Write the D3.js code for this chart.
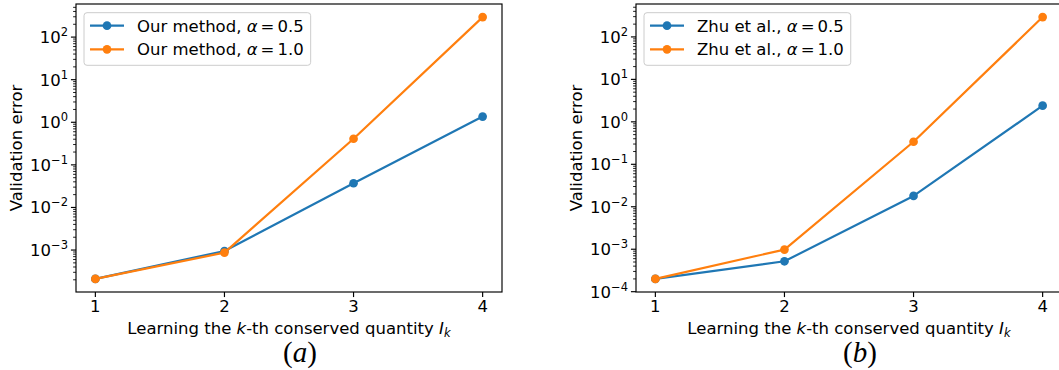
<!DOCTYPE html>
<html><head><meta charset="utf-8">
<script src="https://cdn.jsdelivr.net/npm/d3@7"></script>
<style>
html,body{margin:0;padding:0;background:#fff;}
text{font-family:"DejaVu Sans",sans-serif;fill:#000;}
</style></head>
<body>
<svg id="chart" width="1059" height="370"></svg>
<script>
// ---- data ----
const ks = [1, 2, 3, 4];
const xTickLabels = ["1", "2", "3", "4"];
const yTickExps = [-4, -3, -2, -1, 0, 1, 2];
const oursAlpha05 = [2.1e-4, 9.5e-4, 0.037, 1.36];
const oursAlpha10 = [2.1e-4, 8.7e-4, 0.41, 295];
const zhuAlpha05 = [2.0e-4, 5.2e-4, 0.018, 2.4];
const zhuAlpha10 = [2.0e-4, 9.8e-4, 0.34, 293];
const alphas = ["0.5", "1.0"];
const methodNames = ["Our method", "Zhu et al."];
const panelTags = ["a", "b"];
const colors = ["#1f77b4", "#ff7f0e"];

const svg = d3.select("#chart");
const PT = 1.45;
const FS = 16.5, FS_SMALL = 11.5;

function superTick(sel, exp) {
  sel.append("tspan").text("10");
  sel.append("tspan").attr("font-size", FS_SMALL).attr("dy", -7)
    .text(exp < 0 ? "\u2212" + (-exp) : String(exp));
}

function drawPanel(cfg) {
  const left = cfg.left, top = 4, w = 426, h = 288;
  const g = svg.append("g");
  const x = d3.scaleLinear().domain([0.85, 4.15]).range([left, left + w]);
  const all = cfg.series.flat();
  const lmin = Math.log10(d3.min(all)), lmax = Math.log10(d3.max(all));
  const m = (lmax - lmin) * 0.05;
  const y = d3.scaleLog().domain([Math.pow(10, lmin - m), Math.pow(10, lmax + m)]).range([top + h, top]);
  const [d0, d1] = y.domain();

  // minor ticks
  for (let e = -6; e <= 3; e++) {
    for (let k = 2; k <= 9; k++) {
      const v = k * Math.pow(10, e);
      if (v >= d0 && v <= d1) {
        g.append("line").attr("x1", left).attr("x2", left - 2 * PT)
          .attr("y1", y(v)).attr("y2", y(v)).attr("stroke", "#000").attr("stroke-width", 0.6 * PT);
      }
    }
  }
  // major y ticks
  yTickExps.forEach(e => {
    const v = Math.pow(10, e);
    if (v < d0 * 0.9999 || v > d1) return;
    const yy = y(v);
    g.append("line").attr("x1", left).attr("x2", left - 3.5 * PT)
      .attr("y1", yy).attr("y2", yy).attr("stroke", "#000").attr("stroke-width", 0.8 * PT);
    const t = g.append("text").attr("x", left - 8).attr("y", yy + 6)
      .attr("text-anchor", "end").attr("font-size", FS);
    superTick(t, e);
  });
  // x ticks
  ks.forEach((k, i) => {
    g.append("line").attr("x1", x(k)).attr("x2", x(k))
      .attr("y1", top + h).attr("y2", top + h + 3.5 * PT).attr("stroke", "#000").attr("stroke-width", 0.8 * PT);
    g.append("text").attr("x", x(k)).attr("y", 312).attr("text-anchor", "middle")
      .attr("font-size", FS).text(xTickLabels[i]);
  });

  // series
  const line = d3.line().x((d, i) => x(ks[i])).y(d => y(d));
  cfg.series.forEach((s, si) => {
    g.append("path").datum(s).attr("d", line).attr("fill", "none")
      .attr("stroke", colors[si]).attr("stroke-width", 1.5 * PT).attr("stroke-linejoin", "round");
    g.selectAll(null).data(s).enter().append("circle")
      .attr("cx", (d, i) => x(ks[i])).attr("cy", d => y(d)).attr("r", 3 * PT)
      .attr("fill", colors[si]);
  });

  // spines
  g.append("rect").attr("x", left).attr("y", top).attr("width", w).attr("height", h)
    .attr("fill", "none").attr("stroke", "#000").attr("stroke-width", 0.8 * PT);

  // legend
  const lg = g.append("g");
  const box = lg.append("rect").attr("x", left + 8).attr("y", 12.7).attr("height", 52.6)
    .attr("rx", 3).attr("fill", "#fff").attr("fill-opacity", 0.8)
    .attr("stroke", "#cccccc").attr("stroke-width", 1);
  let maxEnd = 0;
  alphas.forEach((a, i) => {
    const ry = 25.7 + i * 23.6;
    lg.append("line").attr("x1", left + 14).attr("x2", left + 48).attr("y1", ry).attr("y2", ry)
      .attr("stroke", colors[i]).attr("stroke-width", 1.5 * PT);
    lg.append("circle").attr("cx", left + 31).attr("cy", ry).attr("r", 3 * PT).attr("fill", colors[i]);
    const t = lg.append("text").attr("x", left + 61).attr("y", ry + 6).attr("font-size", FS);
    t.append("tspan").text(cfg.name + ", ");
    t.append("tspan").attr("font-style", "italic").text("\u03b1");
    t.append("tspan").attr("dx", 3).text("=");
    t.append("tspan").attr("dx", 3).text(a);
    const bb = t.node().getBBox();
    maxEnd = Math.max(maxEnd, bb.x + bb.width);
  });
  box.attr("width", maxEnd + 7 - (left + 8));

  // axis labels
  const xl = g.append("text").attr("x", left + w / 2).attr("y", 334)
    .attr("text-anchor", "middle").attr("font-size", FS);
  xl.append("tspan").text("Learning the ");
  xl.append("tspan").attr("font-style", "italic").text("k");
  xl.append("tspan").text("-th conserved quantity ");
  xl.append("tspan").attr("font-style", "italic").text("I");
  xl.append("tspan").attr("font-style", "italic").attr("font-size", FS_SMALL).attr("dy", 3).text("k");

  g.append("text").attr("transform", `translate(${left - 60.5},${top + h / 2}) rotate(-90)`)
    .attr("text-anchor", "middle").attr("dy", 6).attr("font-size", FS).text("Validation error");

  const tag = g.append("text").attr("x", left + 224).attr("y", 362).attr("text-anchor", "middle")
    .style("font-family", "'Liberation Serif', serif").attr("font-size", 29);
  tag.append("tspan").text("(");
  tag.append("tspan").attr("font-style", "italic").text(cfg.tag);
  tag.append("tspan").text(")");
}

drawPanel({ left: 76, name: methodNames[0], tag: panelTags[0], series: [oursAlpha05, oursAlpha10] });
drawPanel({ left: 636, name: methodNames[1], tag: panelTags[1], series: [zhuAlpha05, zhuAlpha10] });
</script>
</body></html>
